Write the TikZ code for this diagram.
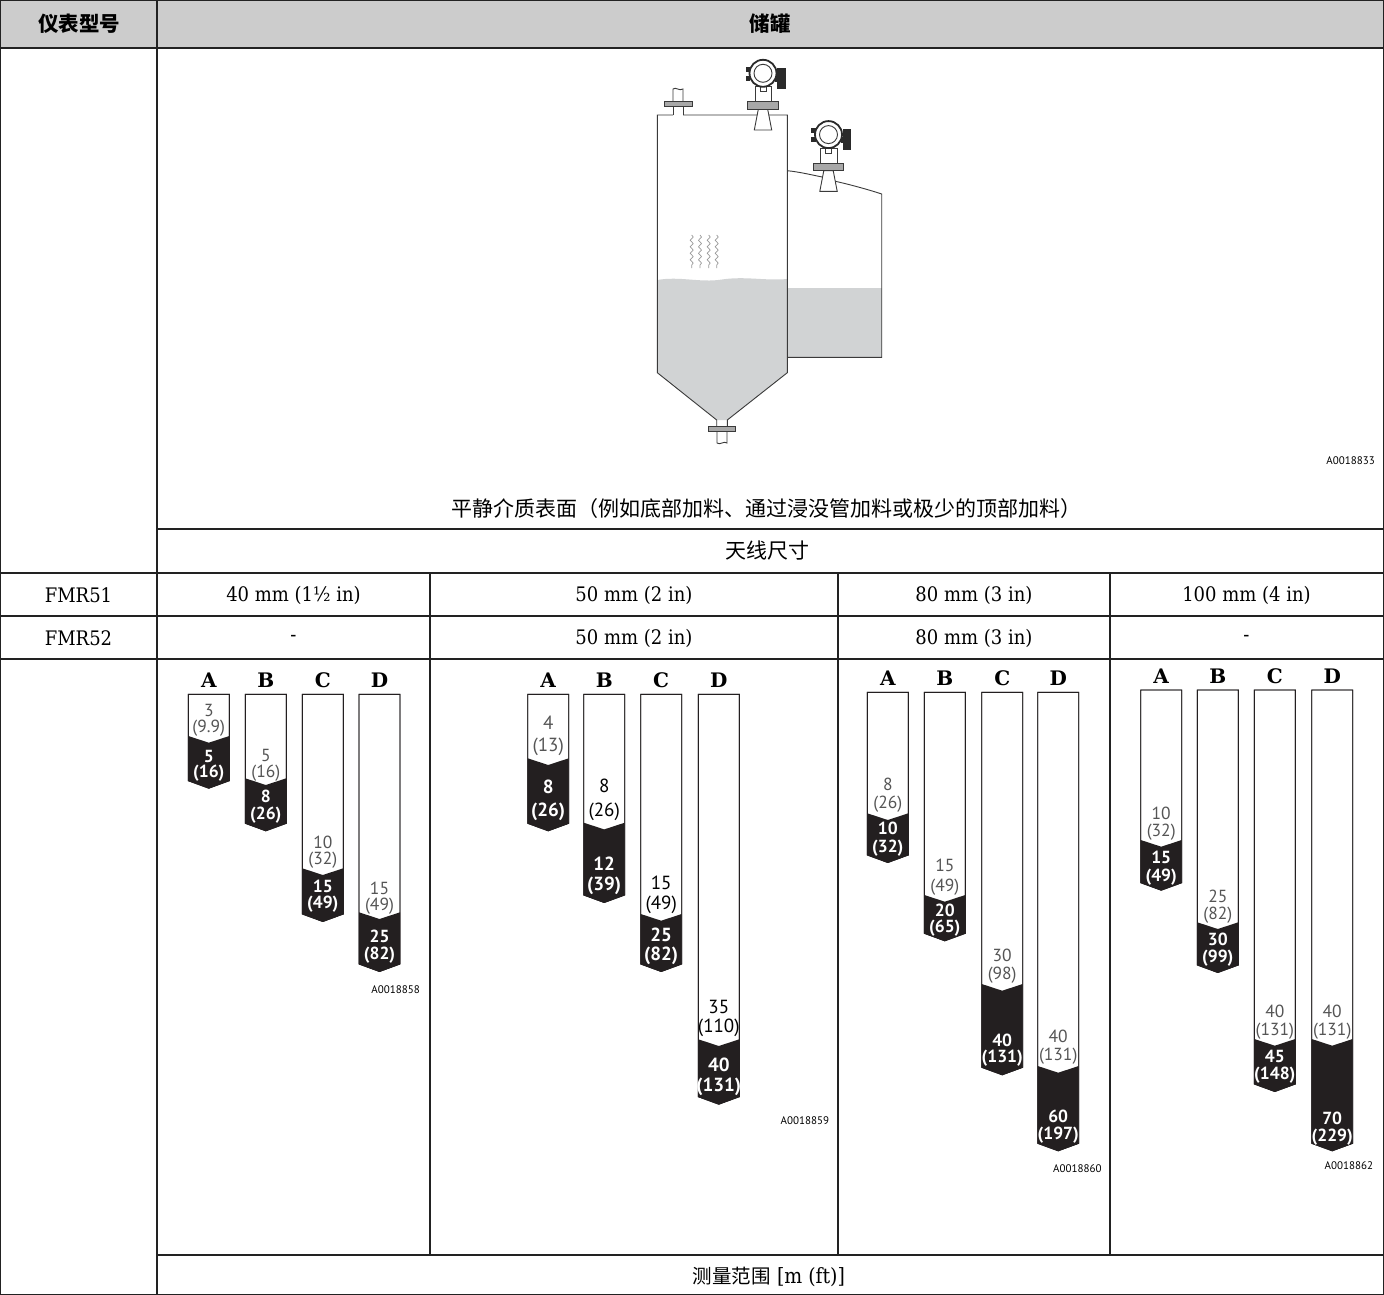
\documentclass[tikz,border=0pt]{standalone}
\usepackage{fontspec}
\setmainfont{DejaVu Serif}
\newfontfamily\cjk{Noto Sans CJK SC}
\newfontfamily\tabf[FakeStretch=0.9]{DejaVu Serif}
\newfontfamily\numf{PT Sans}
\newfontfamily\codef{PT Sans}
\usetikzlibrary{decorations.pathmorphing}
\definecolor{hdrgray}{HTML}{CCCCCC}
\definecolor{gridc}{HTML}{222222}
\definecolor{liquid}{HTML}{D1D3D4}
\definecolor{barblack}{HTML}{231F20}
\definecolor{txtgray}{HTML}{555555}
\definecolor{tankline}{HTML}{3A3A3A}
\definecolor{tankdark}{HTML}{2A2A2A}
\definecolor{flangegray}{HTML}{A8A8A8}
\definecolor{vapor}{HTML}{9A9A9A}

\tikzset{
  gridline/.style={draw=gridc, line width=1.3pt},
  tank/.style={draw=tankline, line width=0.9pt},
  barline/.style={draw=barblack, line width=0.9pt},
  barfill/.style={fill=barblack},
  txlight/.style={font=\numf\fontsize{17.5}{17.5}\selectfont, text=txtgray, inner sep=0},
  txblack/.style={font=\numf\fontsize{19}{19}\selectfont, text=black, inner sep=0},
  txlighttwo/.style={font=\numf\fontsize{19}{19}\selectfont, text=txtgray, inner sep=0},
  txdark/.style={font=\numf\bfseries\fontsize{17.5}{17.5}\selectfont, text=white, inner sep=0},
  txdarktwo/.style={font=\numf\bfseries\fontsize{19}{19}\selectfont, text=white, inner sep=0},
  letstyle/.style={font=\bfseries\fontsize{20}{20}\selectfont, inner sep=0},
  hdrtxt/.style={font=\cjk\bfseries\fontsize{20.5}{20.5}\selectfont},
  cjktxt/.style={font=\cjk\fontsize{21}{21}\selectfont},
  tabtxt/.style={font=\tabf\fontsize{20}{20}\selectfont},
  codetxt/.style={font=\codef\fontsize{11}{11}\selectfont, inner sep=0, anchor=east},
}

% range bar: #1 left x, #2 top y, #3 black start y, #4 bottom y
\newcommand\rbar[4]{%
  \draw[barline, fill=white] (#1,#2) -- (#1+41,#2) -- (#1+41,#4) -- (#1+20.5,#4+7.5) -- (#1,#4) -- cycle;
  \fill[barfill] (#1,#3) -- (#1+20.5,#3+6.7) -- (#1+41,#3) -- (#1+41,#4) -- (#1+20.5,#4+7.5) -- (#1,#4) -- cycle;
  \draw[barline] (#1,#2) -- (#1+41,#2) -- (#1+41,#4) -- (#1+20.5,#4+7.5) -- (#1,#4) -- cycle;
}
% two-line value: #1 name, #2 x, #3 y1, #4 y2, #5 text1, #6 text2, #7 style
\newcommand\ptxt[7]{%
  \node[#7] (#1a) at (#2,#3) {#5};
  \node[#7] (#1b) at (#2,#4) {#6};
}
% letter above bar: #1 name, #2 left x, #3 top y, #4 letter
\newcommand\rlet[4]{\node[letstyle] (#1) at (#2+20.5,#3-14) {#4};}
% transmitter: #1 x, #2 y of flange top centre
\newcommand\xmtr[2]{%
\begin{scope}[shift={(#1,#2)}]
  \draw[tank, fill=white] (-4.7,7.6) -- (4.7,7.6) -- (8.7,28.3) -- (-8.7,28.3) -- cycle;
  \draw[tank, fill=flangegray] (-15.3,0) rectangle (15.3,7.6);
  \draw[tank, fill=white] (-8,-15) rectangle (8.7,0);
  \draw[tank, fill=white] (-3,-15) rectangle (3,-10);
  \fill[tankdark] (12,-26) rectangle (15,-20);
  \fill[tankdark] (14,-34) rectangle (22.5,-12.5);
  \fill[tankdark] (-17.5,-35) rectangle (-13,-30);
  \fill[tankdark] (-17.5,-26) rectangle (-13,-21);
  \draw[line width=1.8pt, tankdark, fill=white] (0,-28.4) circle[radius=13.5];
  \draw[tank] (0,-28.4) circle[radius=9];
\end{scope}}

\begin{document}
\begin{tikzpicture}[x=1pt,y=-1pt]
\useasboundingbox (0,0) rectangle (1384,1295);
\fill[white] (0,0) rectangle (1384,1295);
\fill[hdrgray] (0,0) rectangle (1384,48);

% ---------- tank illustration ----------
\fill[liquid] (657.3,280) .. controls (680,276) and (700,283) .. (722,279.5) .. controls (745,276) and (765,281) .. (787.3,279) -- (787.3,372.7) -- (727.3,420) -- (716.7,420) -- (657.3,372.7) -- cycle;
\fill[liquid] (787.3,288.3) rectangle (881.7,357.3);
\draw[tank] (673,115) -- (657.3,115) -- (657.3,372.7) -- (716.7,420) -- (716.7,426);
\draw[tank] (727.3,426) -- (727.3,420) -- (787.3,372.7) -- (787.3,115) -- (683,115);
\draw[tank] (787.3,170.7) .. controls (800,172) and (812,175) .. (826,177.8);
\draw[tank] (831,180.3) .. controls (850,184.5) and (868,189.5) .. (881.7,194) -- (881.7,357.3) -- (787.3,357.3);
% top-left nozzle
\draw[tank] (673,115) -- (673,106);
\draw[tank] (683,115) -- (683,106);
\draw[tank, fill=flangegray] (664,101.7) rectangle (692,106);
\draw[tank] (673,101.7) -- (673,89) .. controls (676,86.5) and (679,91.5) .. (683,89) -- (683,101.7);
% bottom outlet
\draw[tank, fill=flangegray] (708,426) rectangle (735.7,431);
\draw[tank] (717,431) -- (717,443) .. controls (720,445.5) and (724,440.5) .. (727,443) -- (727,431);
% vapour
\foreach \vx in {691.7,700,708.7,716.7}
  \draw[vapor, line width=0.7pt, decorate, decoration={snake, amplitude=1.5pt, segment length=6.5pt}] (\vx,235) -- (\vx,268);
% transmitters
\xmtr{763}{101.7}
\xmtr{828.5}{163}

\node[codetxt] (c33) at (1375,461) {A0018833};
\node[cjktxt] (cap) at (766,509) {平静介质表面（例如底部加料、通过浸没管加料或极少的顶部加料）};
\node[cjktxt] (ant) at (767,551) {天线尺寸};

% ---------- header ----------
\node[hdrtxt] (h1) at (79,24) {仪表型号};
\node[hdrtxt] (h2) at (770,24) {储罐};

% ---------- model rows ----------
\node[tabtxt] (f51) at (78.5,595) {FMR51};
\node[tabtxt] (f51a) at (293.5,595) {40 mm (1½ in)};
\node[tabtxt] (f51b) at (634,595) {50 mm (2 in)};
\node[tabtxt] (f51c) at (974,595) {80 mm (3 in)};
\node[tabtxt] (f51d) at (1246.5,595) {100 mm (4 in)};
\node[tabtxt] (f52) at (78.5,638) {FMR52};
\node[tabtxt] (f52a) at (293.5,638) {-};
\node[tabtxt] (f52b) at (634,638) {50 mm (2 in)};
\node[tabtxt] (f52c) at (974,638) {80 mm (3 in)};
\node[tabtxt] (f52d) at (1246.5,638) {-};

% ---------- panel 1 ----------
\rbar{188.3}{694.3}{736}{780.7}\rlet{p1A}{188.3}{694.3}{A}
\ptxt{p1Al}{208.8}{710.7}{728.3}{3}{(9.9)}{txlight}
\ptxt{p1Ad}{208.8}{756}{772.7}{5}{(16)}{txdark}
\rbar{245.3}{694.3}{778.3}{823.3}\rlet{p1B}{245.3}{694.3}{B}
\ptxt{p1Bl}{265.8}{755}{772.7}{5}{(16)}{txlight}
\ptxt{p1Bd}{265.8}{796}{815}{8}{(26)}{txdark}
\rbar{302.3}{694.3}{868.3}{914}\rlet{p1C}{302.3}{694.3}{C}
\ptxt{p1Cl}{322.8}{842.7}{860}{10}{(32)}{txlight}
\ptxt{p1Cd}{322.8}{886.7}{904.3}{15}{(49)}{txdark}
\rbar{359}{694.3}{912.3}{964}\rlet{p1D}{359}{694.3}{D}
\ptxt{p1Dl}{379.5}{888.3}{906}{15}{(49)}{txlight}
\ptxt{p1Dd}{379.5}{936}{955}{25}{(82)}{txdark}
\node[codetxt] (c58) at (420,990) {A0018858};

% ---------- panel 2 ----------
\rbar{527.7}{694.3}{758.3}{823.3}\rlet{p2A}{527.7}{694.3}{A}
\ptxt{p2Al}{548.2}{722.7}{747.3}{4}{(13)}{txlighttwo}
\ptxt{p2Ad}{548.2}{786.7}{811.7}{8}{(26)}{txdarktwo}
\rbar{583.7}{694.3}{822.7}{895}\rlet{p2B}{583.7}{694.3}{B}
\ptxt{p2Bl}{604.2}{786}{811.7}{8}{(26)}{txblack}
\ptxt{p2Bd}{604.2}{863.3}{886}{12}{(39)}{txdarktwo}
\rbar{640.7}{694.3}{914}{964}\rlet{p2C}{640.7}{694.3}{C}
\ptxt{p2Cl}{661.2}{883.3}{905}{15}{(49)}{txblack}
\ptxt{p2Cd}{661.2}{935}{956}{25}{(82)}{txdarktwo}
\rbar{698.3}{694.3}{1039.3}{1096.7}\rlet{p2D}{698.3}{694.3}{D}
\ptxt{p2Dl}{718.8}{1006.7}{1028.3}{35}{(110)}{txblack}
\ptxt{p2Dd}{718.8}{1065}{1086.7}{40}{(131)}{txdarktwo}
\node[codetxt] (c59) at (829.3,1120.7) {A0018859};

% ---------- panel 3 ----------
\rbar{867.3}{692.3}{813.3}{855}\rlet{p3A}{867.3}{692.3}{A}
\ptxt{p3Al}{887.8}{784}{804}{8}{(26)}{txlight}
\ptxt{p3Ad}{887.8}{828.3}{848.3}{10}{(32)}{txdark}
\rbar{924.3}{692.3}{895}{933.3}\rlet{p3B}{924.3}{692.3}{B}
\ptxt{p3Bl}{944.8}{865}{886.7}{15}{(49)}{txlight}
\ptxt{p3Bd}{944.8}{910.7}{928.3}{20}{(65)}{txdark}
\rbar{981.7}{692.3}{984}{1067.3}\rlet{p3C}{981.7}{692.3}{C}
\ptxt{p3Cl}{1002.2}{955}{975}{30}{(98)}{txlight}
\ptxt{p3Cd}{1002.2}{1040}{1058.3}{40}{(131)}{txdark}
\rbar{1037.7}{692.3}{1066}{1143.3}\rlet{p3D}{1037.7}{692.3}{D}
\ptxt{p3Dl}{1058.2}{1036.7}{1056}{40}{(131)}{txlight}
\ptxt{p3Dd}{1058.2}{1116}{1135}{60}{(197)}{txdark}
\node[codetxt] (c60) at (1101.7,1168.3) {A0018860};

% ---------- panel 4 ----------
\rbar{1140.7}{690}{840}{882.7}\rlet{p4A}{1140.7}{690}{A}
\ptxt{p4Al}{1161.2}{813.3}{832.3}{10}{(32)}{txlight}
\ptxt{p4Ad}{1161.2}{857.7}{876.7}{15}{(49)}{txdark}
\rbar{1197.3}{690}{922.3}{965}\rlet{p4B}{1197.3}{690}{B}
\ptxt{p4Bl}{1217.8}{896.7}{915}{25}{(82)}{txlight}
\ptxt{p4Bd}{1217.8}{939.3}{957.7}{30}{(99)}{txdark}
\rbar{1254.3}{690}{1039}{1084}\rlet{p4C}{1254.3}{690}{C}
\ptxt{p4Cl}{1274.8}{1011.7}{1030.7}{40}{(131)}{txlight}
\ptxt{p4Cd}{1274.8}{1056}{1075}{45}{(148)}{txdark}
\rbar{1311.7}{690}{1039}{1143.3}\rlet{p4D}{1311.7}{690}{D}
\ptxt{p4Dl}{1332.2}{1011.7}{1030.7}{40}{(131)}{txlight}
\ptxt{p4Dd}{1332.2}{1118.3}{1136.7}{70}{(229)}{txdark}
\node[codetxt] (c62) at (1373.3,1166) {A0018862};

% ---------- bottom caption ----------
\node[font=\tabf\fontsize{21}{21}\selectfont] (mr) at (769,1277) {{\cjk\fontsize{19.5}{19.5}\selectfont 测量范围} [m (ft)]};

% ---------- grid ----------
\draw[gridline] (0.65,0.65) rectangle (1383.35,1294.35);
\draw[gridline] (0,48) -- (1384,48);
\draw[gridline] (157,0) -- (157,1295);
\draw[gridline] (157,529) -- (1384,529);
\draw[gridline] (0,573) -- (1384,573);
\draw[gridline] (0,616) -- (1384,616);
\draw[gridline] (0,659) -- (1384,659);
\draw[gridline] (157,1255) -- (1384,1255);
\foreach \gx in {430,838,1110} \draw[gridline] (\gx,573) -- (\gx,1255);
\end{tikzpicture}
\end{document}
